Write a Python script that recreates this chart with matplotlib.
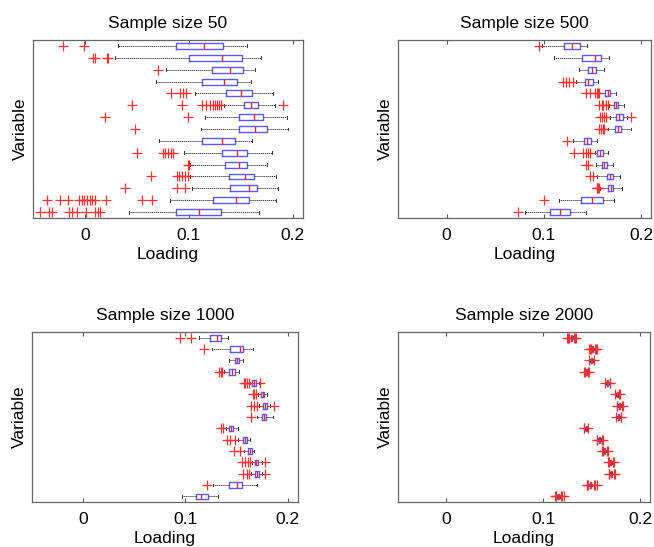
import matplotlib.pyplot as plt

plt.rcParams['font.family'] = ['Liberation Sans', 'DejaVu Sans']

titles = ["Sample size 50", "Sample size 500", "Sample size 1000", "Sample size 2000"]

# rows listed top to bottom (15 variables)
# --- sample size 50
wlo_50 = [0.032, 0.029, 0.078, 0.068, 0.106, 0.134, 0.116, 0.112, 0.071, 0.095, 0.1016, 0.1016, 0.103, 0.082, 0.042]
q1_50 = [0.088, 0.100, 0.1226, 0.1126, 0.136, 0.153, 0.148, 0.148, 0.113, 0.1316, 0.135, 0.139, 0.140, 0.123, 0.0874]
med_50 = [0.1145, 0.132, 0.140, 0.1335, 0.150, 0.160, 0.163, 0.164, 0.132, 0.146, 0.148, 0.154, 0.158, 0.1455, 0.110]
q3_50 = [0.1326, 0.151, 0.1526, 0.146, 0.1606, 0.167, 0.171, 0.175, 0.145, 0.156, 0.156, 0.163, 0.1655, 0.158, 0.1313]
whi_50 = [0.156, 0.170, 0.164, 0.160, 0.181, 0.183, 0.1945, 0.196, 0.161, 0.180, 0.175, 0.184, 0.186, 0.184, 0.168]
out_50 = [
    [-0.021, -0.001],
    [0.008, 0.010, 0.021, 0.022],
    [0.070],
    [],
    [0.083, 0.092, 0.094, 0.097],
    [0.045, 0.093, 0.1126, 0.117, 0.120, 0.123, 0.125, 0.127, 0.129, 0.131, 0.191],
    [0.019, 0.099],
    [0.048],
    [],
    [0.050, 0.075, 0.077, 0.080, 0.083, 0.085],
    [0.0995, 0.100],
    [0.0635, 0.089, 0.091, 0.0935, 0.096, 0.099],
    [0.0387, 0.089, 0.096],
    [-0.037, -0.024, -0.016, -0.006, -0.003, -0.0006, 0.002, 0.0045, 0.007, 0.0097, 0.0206, 0.0545, 0.0645],
    [-0.0435, -0.035, -0.032, -0.015, -0.012, -0.008, 0.001, 0.010, 0.0126, 0.0145],
]

# --- sample size 500
wlo_500 = [0.0976, 0.110, 0.136, 0.133, 0.157, 0.167, 0.168, 0.1655, 0.130, 0.152, 0.153, 0.155, 0.158, 0.115, 0.081]
q1_500 = [0.121, 0.139, 0.145, 0.142, 0.163, 0.172, 0.1745, 0.173, 0.141, 0.155, 0.160, 0.165, 0.166, 0.1376, 0.106]
med_500 = [0.129, 0.152, 0.149, 0.1455, 0.166, 0.1745, 0.1776, 0.176, 0.144, 0.158, 0.162, 0.168, 0.1686, 0.149, 0.1166]
q3_500 = [0.137, 0.159, 0.153, 0.150, 0.168, 0.1766, 0.181, 0.179, 0.148, 0.161, 0.165, 0.1714, 0.1714, 0.161, 0.1266]
whi_500 = [0.144, 0.167, 0.162, 0.156, 0.1745, 0.182, 0.1855, 0.189, 0.155, 0.166, 0.171, 0.178, 0.180, 0.172, 0.143]
out_500 = [
    [0.095],
    [],
    [],
    [0.120, 0.123, 0.126, 0.130],
    [0.143, 0.147, 0.152, 0.154, 0.156, 0.157],
    [0.157, 0.160, 0.161, 0.164, 0.166],
    [0.158, 0.160, 0.162, 0.164, 0.189],
    [0.157, 0.159, 0.1607, 0.162],
    [0.124],
    [0.131, 0.140, 0.1434, 0.145, 0.1476],
    [0.143, 0.1455],
    [0.147, 0.150],
    [0.154, 0.155, 0.156, 0.157],
    [0.100],
    [0.073],
]

# --- sample size 1000
wlo_1000 = [0.113, 0.126, 0.1425, 0.1376, 0.163, 0.1706, 0.172, 0.170, 0.1395, 0.151, 0.1575, 0.165, 0.164, 0.127, 0.097]
q1_1000 = [0.1235, 0.1435, 0.148, 0.143, 0.165, 0.1735, 0.176, 0.175, 0.143, 0.156, 0.1614, 0.1676, 0.168, 0.1425, 0.110]
med_1000 = [0.131, 0.153, 0.150, 0.1457, 0.1667, 0.1755, 0.178, 0.177, 0.1448, 0.158, 0.163, 0.169, 0.170, 0.1506, 0.1153]
q3_1000 = [0.1346, 0.1565, 0.152, 0.148, 0.1686, 0.177, 0.1797, 0.179, 0.1464, 0.1605, 0.165, 0.171, 0.172, 0.1555, 0.1216]
whi_1000 = [0.142, 0.166, 0.156, 0.1526, 0.172, 0.1797, 0.183, 0.1856, 0.151, 0.163, 0.1673, 0.175, 0.175, 0.1696, 0.1317]
out_1000 = [
    [0.095, 0.105],
    [0.118],
    [],
    [0.133, 0.1346, 0.136],
    [0.157, 0.158, 0.160, 0.162, 0.173],
    [0.1657, 0.1673, 0.169],
    [0.164, 0.1673, 0.170, 0.187],
    [0.1644],
    [0.135, 0.1366],
    [0.1405, 0.144, 0.148],
    [0.147, 0.153],
    [0.155, 0.158, 0.161, 0.163, 0.178],
    [0.156, 0.160, 0.162, 0.178],
    [0.121],
    [],
]

# --- sample size 2000
wlo_2000 = [0.1268, 0.1495, 0.1485, 0.1432, 0.1648, 0.1748, 0.1772, 0.1764, 0.1428, 0.1566, 0.1618, 0.1681, 0.1688, 0.1474, 0.1142]
q1_2000 = [0.1280, 0.1502, 0.1495, 0.1440, 0.1655, 0.1755, 0.1780, 0.1771, 0.1435, 0.1575, 0.1625, 0.1688, 0.1695, 0.1484, 0.1150]
med_2000 = [0.1286, 0.1507, 0.1500, 0.1445, 0.1660, 0.1760, 0.1786, 0.1776, 0.1440, 0.1580, 0.1630, 0.1693, 0.1700, 0.1490, 0.1155]
q3_2000 = [0.1292, 0.1512, 0.1505, 0.1450, 0.1665, 0.1765, 0.1792, 0.1781, 0.1445, 0.1585, 0.1635, 0.1698, 0.1705, 0.1496, 0.1160]
whi_2000 = [0.1304, 0.1520, 0.1515, 0.1458, 0.1672, 0.1772, 0.1800, 0.1788, 0.1452, 0.1594, 0.1642, 0.1705, 0.1712, 0.1506, 0.1168]
out_2000 = [
    [0.1245, 0.1255, 0.1262, 0.1312, 0.1322, 0.1335],
    [0.1466, 0.1478, 0.1488, 0.1528, 0.1538, 0.1550],
    [0.1475, 0.1522],
    [0.1418, 0.1425, 0.1465, 0.1472],
    [0.1636, 0.1685, 0.1692],
    [0.1735, 0.1785, 0.1795],
    [0.1758, 0.1762, 0.1812, 0.1822],
    [0.1752, 0.1798, 0.1805],
    [0.1415, 0.1420, 0.1462],
    [0.1552, 0.1558, 0.1605, 0.1615],
    [0.1602, 0.1610, 0.1655, 0.1662],
    [0.1665, 0.1672, 0.1718, 0.1728],
    [0.1672, 0.1678, 0.1725, 0.1735],
    [0.1448, 0.1455, 0.1462, 0.1525, 0.1535, 0.1550],
    [0.1120, 0.1128, 0.1135, 0.1180, 0.1192, 0.1215],
]

panels = [
    (wlo_50, q1_50, med_50, q3_50, whi_50, out_50),
    (wlo_500, q1_500, med_500, q3_500, whi_500, out_500),
    (wlo_1000, q1_1000, med_1000, q3_1000, whi_1000, out_1000),
    (wlo_2000, q1_2000, med_2000, q3_2000, whi_2000, out_2000),
]

W, H = 654, 547
# axes boxes in pixels: left, top, right, bottom
boxes = [(33, 40, 303, 218), (398, 40, 651, 218), (32, 332, 298, 502), (398, 332, 650, 502)]

fig = plt.figure(figsize=(W / 100, H / 100), dpi=100)

for (l, t, r, b), title, (wlo, q1, med, q3, whi, out) in zip(boxes, titles, panels):
    ax = fig.add_axes([l / W, 1 - b / H, (r - l) / W, (b - t) / H])
    n = len(med)
    stats = []
    for i in range(n):
        stats.append(dict(whislo=wlo[i], q1=q1[i], med=med[i], q3=q3[i], whishi=whi[i], fliers=out[i]))
    positions = list(range(n, 0, -1))
    ax.bxp(stats, positions=positions, orientation='horizontal', widths=0.5, capwidths=0.25,
           boxprops=dict(color='#5a5aff', lw=1.0),
           medianprops=dict(color='#ff2020', lw=1.0),
           whiskerprops=dict(color='#333333', lw=0.7, linestyle=(0, (1.2, 0.8))),
           capprops=dict(color='#333333', lw=0.7),
           flierprops=dict(marker='+', markeredgecolor='#ff3030', markersize=7, markeredgewidth=0.9,
                           linestyle='none'))
    ax.set_xlim(-0.05, 0.21)
    ax.set_ylim(0.5, n + 0.5)
    ax.set_xticks([0, 0.1, 0.2])
    ax.set_xticklabels(['0', '0.1', '0.2'])
    ax.set_yticks([])
    ax.tick_params(axis='x', direction='in', top=True, length=3, labelsize=12.5, color='#555555', pad=7)
    for s in ax.spines.values():
        s.set_color('#666666')
        s.set_linewidth(0.9)
    ax.set_title(title, fontsize=12.5, pad=8.5)
    ax.set_xlabel('Loading', fontsize=12.5, labelpad=3)
    ax.set_ylabel('Variable', fontsize=12.5, labelpad=3.5)

fig.savefig('out.png', dpi=100)
